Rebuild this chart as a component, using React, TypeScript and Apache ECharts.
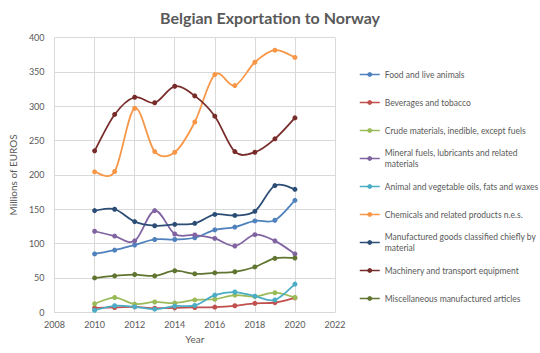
import React, { useEffect, useRef } from "react";
import * as echarts from "echarts";

const years = [2010, 2011, 2012, 2013, 2014, 2015, 2016, 2017, 2018, 2019, 2020];

const seriesNames = [
  "Food and live animals",
  "Beverages and tobacco",
  "Crude materials, inedible, except fuels",
  "Mineral fuels, lubricants and related materials",
  "Animal and vegetable oils, fats and waxes",
  "Chemicals and related products n.e.s.",
  "Manufactured goods classified chiefly by material",
  "Machinery and transport equipment",
  "Miscellaneous manufactured articles",
];

const legendLabels = [
  "Food and live animals",
  "Beverages and tobacco",
  "Crude materials, inedible, except fuels",
  "Mineral fuels, lubricants and related\nmaterials",
  "Animal and vegetable oils, fats and waxes",
  "Chemicals and related products n.e.s.",
  "Manufactured goods classified chiefly by\nmaterial",
  "Machinery and transport equipment",
  "Miscellaneous manufactured articles",
];

const food = [85, 90.5, 98, 106, 106, 108.5, 120, 124, 133, 134, 163];
const beverages = [6.5, 7, 8, 6, 6.5, 7, 7.5, 9.5, 13, 14, 21];
const crude = [12.5, 21.5, 12, 15, 13.5, 18, 19, 25, 23, 28.5, 21.5];
const mineral = [118, 111, 104, 148, 114, 112.5, 107.5, 96.5, 113, 104, 85];
const animal = [3, 9.5, 8, 4.5, 9, 10, 25, 29.5, 23.5, 18, 41];
const chemicals = [204.5, 205, 297, 234, 233, 277, 346, 330, 364, 381.5, 371];
const manufactured = [148, 150, 132, 126, 128, 129.5, 142.5, 141, 147, 184.5, 179];
const machinery = [235, 288, 313, 305, 329, 315, 285.5, 234, 233, 252.5, 283];
const misc = [50, 53, 55, 53, 60.5, 56, 57.5, 59, 66, 78.5, 79];

const allValues = [food, beverages, crude, mineral, animal, chemicals, manufactured, machinery, misc];

const colors = [
  "#4F81BD",
  "#C0504D",
  "#9BBB59",
  "#8064A2",
  "#4BACC6",
  "#F79646",
  "#2C4D75",
  "#772C2A",
  "#5F7530",
];

const xTicks = { min: 2008, max: 2022, interval: 2 };
const yTicks = { min: 0, max: 400, interval: 50 };

const TEXT = "#595959";
const GRID = "#d9d9d9";
const FONT = "Lato, 'Liberation Sans', sans-serif";
const LINE_W = 1.75;

// Excel-like smoothed path (Catmull-Rom -> cubic Bezier) in pixel space
function smoothPath(pts: number[][]): string {
  if (!pts.length) return "";
  let d = `M${pts[0][0]},${pts[0][1]}`;
  for (let k = 0; k < pts.length - 1; k++) {
    const p0 = pts[k - 1] || pts[k];
    const p1 = pts[k];
    const p2 = pts[k + 1];
    const p3 = pts[k + 2] || pts[k + 1];
    const c1x = p1[0] + (p2[0] - p0[0]) / 6;
    const c1y = p1[1] + (p2[1] - p0[1]) / 6;
    const c2x = p2[0] - (p3[0] - p1[0]) / 6;
    const c2y = p2[1] - (p3[1] - p1[1]) / 6;
    d += ` C${c1x},${c1y} ${c2x},${c2y} ${p2[0]},${p2[1]}`;
  }
  return d;
}

export default function App() {
  const ref = useRef<HTMLDivElement>(null);

  useEffect(() => {
    if (!ref.current) return;
    const chart = echarts.init(ref.current, undefined, { renderer: "svg" });

    const curveSeries = seriesNames.map((name, i) => ({
      name: name + " (curve)",
      type: "custom",
      coordinateSystem: "cartesian2d",
      silent: true,
      z: 2 + i * 0.01,
      data: [[years[0], allValues[i][0]]],
      renderItem: (_params: any, api: any) => {
        const pts = years.map((y, j) => api.coord([y, allValues[i][j]]));
        return {
          type: "path",
          shape: { pathData: smoothPath(pts) },
          style: { stroke: colors[i], fill: "none", lineWidth: LINE_W },
        };
      },
    }));

    const pointSeries = seriesNames.map((name, i) => ({
      name,
      type: "line",
      symbol: "circle",
      symbolSize: 5,
      z: 3,
      color: colors[i],
      lineStyle: { width: LINE_W, color: colors[i], opacity: 0 },
      itemStyle: { color: colors[i] },
      data: years.map((y, j) => [y, allValues[i][j]]),
    }));

    const legends = seriesNames.map((name, i) => {
      const center = 74.5 + i * 28;
      const wrapped = legendLabels[i].includes("\n");
      return {
        data: [name],
        left: 359,
        top: wrapped ? center - 16.5 : center - 5.5,
        padding: 0,
        orient: "vertical",
        itemWidth: 20,
        itemHeight: 6,
        itemGap: 0,
        formatter: () => legendLabels[i],
        lineStyle: { color: colors[i], width: 1.5, opacity: 1 },
        textStyle: {
          color: TEXT,
          fontSize: 8.5,
          fontFamily: FONT,
          lineHeight: 11,
          padding: wrapped ? [11, 0, 0, 0] : 0,
        },
      };
    });

    chart.setOption({
      animation: false,
      backgroundColor: "#ffffff",
      title: {
        text: "Belgian Exportation to Norway",
        left: "center",
        top: 4,
        textStyle: { color: TEXT, fontSize: 16, fontWeight: "bold", fontFamily: FONT },
      },
      grid: { left: 46, right: 205, top: 37.5, bottom: 40.7, containLabel: false },
      xAxis: {
        type: "value",
        min: xTicks.min,
        max: xTicks.max,
        interval: xTicks.interval,
        name: "Year",
        nameLocation: "middle",
        nameGap: 21,
        nameTextStyle: { color: TEXT, fontSize: 10, fontFamily: FONT },
        axisLine: { lineStyle: { color: GRID } },
        axisTick: { show: false },
        axisLabel: {
          color: TEXT,
          fontSize: 9,
          fontFamily: FONT,
          margin: 8,
          formatter: (v: number) => String(v),
        },
        splitLine: { show: true, lineStyle: { color: GRID, width: 1 } },
      },
      yAxis: {
        type: "value",
        min: yTicks.min,
        max: yTicks.max,
        interval: yTicks.interval,
        name: "Millions of EUROS",
        nameLocation: "middle",
        nameGap: 22,
        nameTextStyle: { color: TEXT, fontSize: 10, fontFamily: FONT },
        axisLine: { show: false },
        axisTick: { show: false },
        axisLabel: { color: TEXT, fontSize: 9, fontFamily: FONT, margin: 10 },
        splitLine: { show: true, lineStyle: { color: GRID, width: 1 } },
      },
      legend: legends,
      series: [...curveSeries, ...pointSeries],
    });

    return () => chart.dispose();
  }, []);

  return (
    <div
      ref={ref}
      style={{ position: "absolute", left: 0, top: 0, width: 540, height: 353 }}
    />
  );
}
